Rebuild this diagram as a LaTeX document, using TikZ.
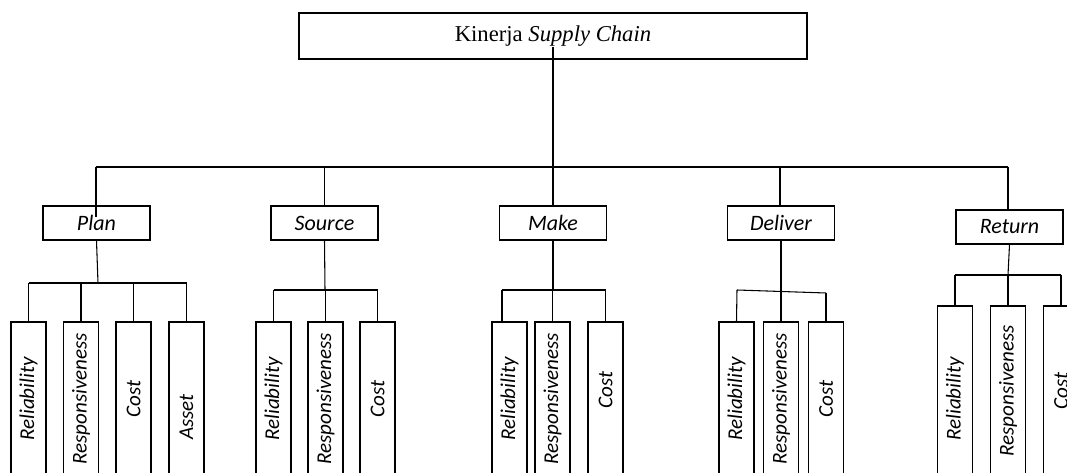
\documentclass[tikz,border=0pt]{standalone}
\usepackage{fontspec}
\setmainfont{Liberation Serif}
\newfontfamily\carlito{Carlito}
\usetikzlibrary{calc}
\begin{document}
\begin{tikzpicture}[x=0.75pt,y=-0.75pt,line width=0.8pt,
  box/.style={draw,inner sep=0pt,line width=0.8pt},
  topbox/.style={box,minimum width=381pt,minimum height=34.5pt,font=\fontsize{17}{20}\selectfont},
  midbox/.style={box,minimum width=80.25pt,minimum height=25.5pt,font=\carlito\itshape\fontsize{16.5}{19}\selectfont},
  leaf/.style={box,rotate=90,minimum width=115.5pt,minimum height=26.25pt,font=\carlito\itshape\fontsize{15.8}{18}\selectfont},
  rleaf/.style={leaf,minimum width=127.5pt}]
\useasboundingbox (0,0) rectangle (1067,473);
\clip (0,0) rectangle (1067,473);
% top
\node[topbox] (kin) at (553,36) {Kinerja \textit{Supply Chain}};
% level 2
\node[midbox] (plan) at (96.5,223) {Plan};
\node[midbox] (source) at (324.5,223) {Source};
\node[midbox] (make) at (553,223) {Make};
\node[midbox] (deliver) at (781,223) {Deliver};
\node[midbox] (return) at (1009.5,227) {Return};
% leaves
\node[leaf] (p1) at (28.5,399) {Reliability};
\node[leaf] (p2) at (81,399) {Responsiveness};
\node[leaf] (p3) at (133.5,399) {Cost};
\node[leaf] (p4) at (186.5,399) {Asset\hspace*{27pt}};
\node[leaf] (s1) at (273.5,399) {Reliability};
\node[leaf] (s2) at (325.5,399) {Responsiveness};
\node[leaf] (s3) at (377.5,399) {Cost};
\node[leaf] (m1) at (509.5,399) {Reliability};
\node[leaf] (m2) at (552.5,399) {Responsiveness};
\node[leaf] (m3) at (605.5,399) {\hspace*{13pt}Cost};
\node[leaf] (d1) at (736.5,399) {Reliability};
\node[leaf] (d2) at (781,399) {Responsiveness};
\node[leaf] (d3) at (826,399) {Cost};
\node[rleaf] (r1) at (955,391) {Reliability\hspace*{12pt}};
\node[rleaf] (r2) at (1008,391) {Responsiveness};
\node[rleaf] (r3) at (1061,391) {Cost};
% main bus
\coordinate (busL) at (96,167);
\coordinate (busR) at (1008,167);
\draw (busL) -- (busR);
\draw ($(kin.center)+(0,11)$) -- (kin.center |- busL);
\draw (busL) -- ($(plan.north)+(-0.5,12)$);
\draw (source.north |- busL) -- (source.north);
\draw (make.north |- busL) -- (make.north);
\draw ($(deliver.north |- busL)+(-1,0)$) -- ($(deliver.north)+(-1,0)$);
\draw (busR) -- (busR |- return.north);
% plan children
\coordinate (pb) at (98,283);
\draw (plan.south) -- (pb);
\draw (p1.east |- pb) -- (p4.east |- pb);
\foreach \n in {p1,p2,p3,p4} \draw (\n.east |- pb) -- (\n.east);
% source children
\coordinate (sb) at (325,290);
\draw (source.south) -- (sb);
\draw (s1.east |- sb) -- (s3.east |- sb);
\foreach \n in {s1,s2,s3} \draw (\n.east |- sb) -- (\n.east);
% make children
\coordinate (mb) at (553,290);
\coordinate (mbl) at (502,290);
\draw (make.south) -- (mb);
\draw (mbl) -- (m3.east |- mb);
\draw (mbl) -- (mbl |- m1.east);
\foreach \n in {m2,m3} \draw (\n.east |- mb) -- (\n.east);
% deliver children
\coordinate (dbl) at (737,290);
\coordinate (dbr) at (826,293);
\draw (deliver.south) -- (d2.east);
\draw (dbl) -- (dbr);
\draw (dbl) -- (d1.east);
\draw (dbr) -- (d3.east);
% return children
\coordinate (rb) at (1008,275);
\draw (return.south) -- (rb);
\draw (r1.east |- rb) -- (r3.east |- rb);
\foreach \n in {r1,r2,r3} \draw (\n.east |- rb) -- (\n.east);
\end{tikzpicture}
\end{document}
